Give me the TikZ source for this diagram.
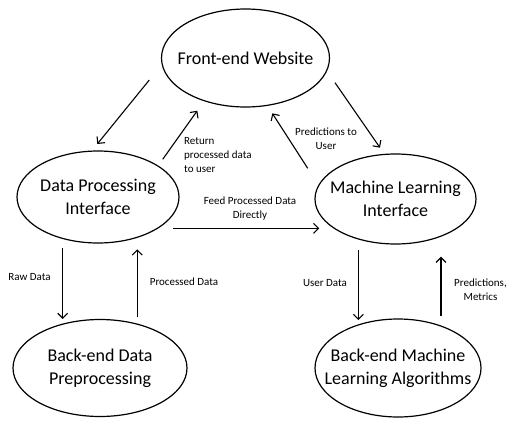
\documentclass[tikz,border=0pt]{standalone}
\usepackage{fontspec}
\setmainfont{Carlito}
\usetikzlibrary{shapes.geometric,arrows.meta}
\tikzset{
  oval/.style={draw=black, line width=1.2pt, ellipse, inner sep=0pt},
  bigtxt/.style={font=\fontsize{18}{23}\selectfont, align=center, inner sep=0pt},
  conn/.style={draw=black, line width=1.1pt, -{Straight Barb[length=5pt,width=10pt,line width=1.1pt]}},
  lbl/.style={font=\fontsize{11}{14}\selectfont, inner sep=0pt, align=center},
}
\begin{document}
\begin{tikzpicture}[x=1pt,y=-1pt]
\useasboundingbox (0,0) rectangle (512,426);
\node[oval, minimum width=168pt, minimum height=98pt,
  label={[bigtxt]center:Front-end Website}] (fe) at (245.5,58) {};
\node[oval, minimum width=162pt, minimum height=92pt,
  label={[bigtxt]center:Data Processing\\Interface}] (dpi) at (98,197) {};
\node[oval, minimum width=161pt, minimum height=90pt,
  label={[bigtxt]center:Machine Learning\\Interface}] (ml) at (395.5,199) {};
\node[oval, minimum width=174pt, minimum height=97pt,
  label={[bigtxt]center:Back-end Data\\Preprocessing}] (bdp) at (100,368) {};
\node[oval, minimum width=166pt, minimum height=98pt,
  label={[bigtxt]center:Back-end Machine\\Learning Algorithms}] (bml) at (398,368) {};

\draw[conn] ([shift={(-96.2,22)}]fe.center) -- ([shift={(-0.7,-53)}]dpi.center);
\draw[conn] ([shift={(64.7,-37.7)}]dpi.center) -- ([shift={(-48.2,52.7)}]fe.center);
\draw[conn] ([shift={(89.5,24.7)}]fe.center) -- ([shift={(-15.5,-51.3)}]ml.center);
\draw[conn] ([shift={(-87.8,-30.7)}]ml.center) -- ([shift={(26.8,55.3)}]fe.center);
\draw[conn] ([shift={(75.3,31.3)}]dpi.center) -- ([shift={(-76.2,29.3)}]ml.center);
\draw[conn] ([shift={(-35.3,51.3)}]dpi.center) -- ([shift={(-37.3,-49)}]bdp.center);
\draw[conn] ([shift={(37.3,-50.7)}]bdp.center) -- ([shift={(39.3,52.3)}]dpi.center);
\draw[conn] ([shift={(-37.2,51)}]ml.center) -- ([shift={(-39.7,-48)}]bml.center);
\draw[conn] ([shift={(43,-52)}]bml.center) -- ([shift={(45.5,57.7)}]ml.center);

\node[lbl, anchor=west, align=left] (l1) at (184,155) {Return\\processed data\\to user};
\node[lbl] (l2) at (326,138.5) {Predictions to\\User};
\node[lbl] (l3) at (250,208.5) {Feed Processed Data\\Directly};
\node[lbl] (l4) at (29.5,277) {Raw Data};
\node[lbl] (l5) at (184,282) {Processed Data};
\node[lbl] (l6) at (325,283.5) {User Data};
\node[lbl] (l7) at (480.5,290) {Predictions,\\Metrics};
\end{tikzpicture}
\end{document}
